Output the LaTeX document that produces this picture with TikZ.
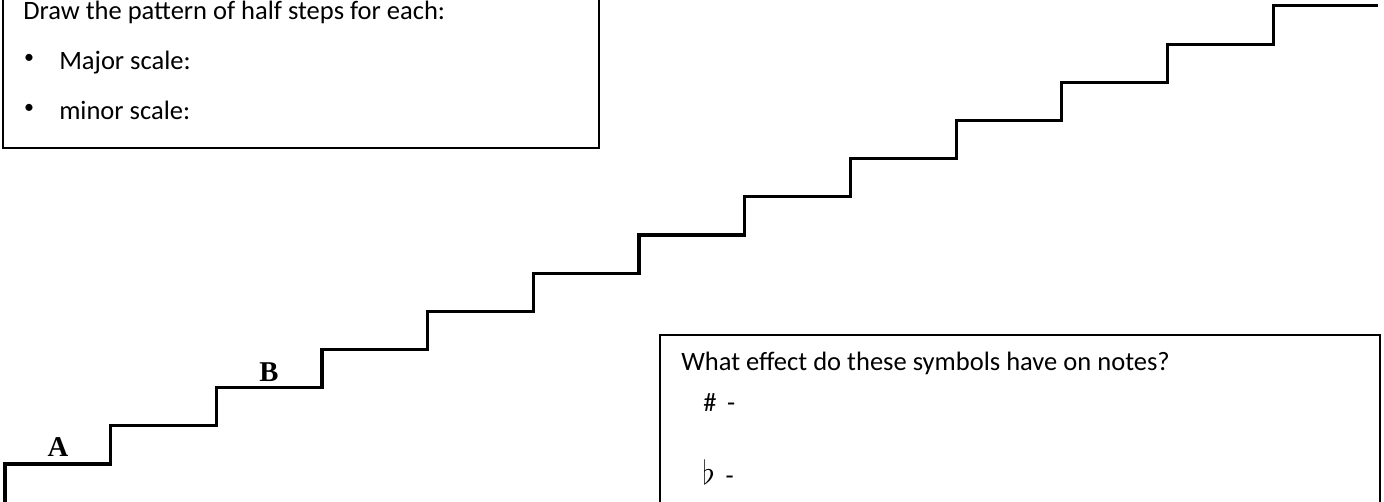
\documentclass[tikz,border=0pt]{standalone}
\usepackage{fontspec}
\setmainfont{Carlito}
\newfontfamily\labfont{Liberation Serif}
\usepackage{tikz}
\usetikzlibrary{positioning}
\tikzset{
  every node/.style={font=\fontsize{19.9}{24}\selectfont,inner sep=0pt},
  qbox/.style={draw=black,line width=1.5pt},
  stair/.style={black,line width=2.3pt,line join=miter},
  lab/.style={anchor=base,font=\labfont\bfseries\fontsize{21.5}{24}\selectfont},
}

\begin{document}
\begin{tikzpicture}[x=0.75pt,y=-0.75pt,
  txt/.style={anchor=base west},
  dot/.style={anchor=center,font=\fontsize{15}{18}\selectfont}]
  \useasboundingbox (0,0) rectangle (1384,502);
  \clip (0,0) rectangle (1384,502);
  % question boxes
  \draw[qbox] (3,-10) rectangle (599,148);
  \draw[qbox] (660,335) rectangle (1380,520);
  \node[txt] (ask) at (23,20) {Draw the pattern of half steps for each:};
  \node[dot] (b1) at (29,59) {\textbullet};
  \node[txt] (major) at (59,70) {Major scale:};
  \node[dot] (b2) at (29,109) {\textbullet};
  \node[txt] (minor) at (59,120) {minor scale:};
  \node[txt] (effect) at (681,370) {What effect do these symbols have on notes?};
  \node[txt] (sharp) at (703,411) {\#\hspace{8pt}-};
  \node[txt] (flat) at (702,484) {{\fontsize{27}{30}\selectfont$\flat$}\hspace{8pt}-};
  % staircase
  \draw[stair] (5,510) -- (5,464)
    \foreach \k in {1,...,12} { -- ++(105.67,0) -- ++(0,-38.17) } -- ++(105,0);
  \node[lab] (A) at (58,456) {A};
  \node[lab] (B) at (269,381) {B};
\end{tikzpicture}
\end{document}
